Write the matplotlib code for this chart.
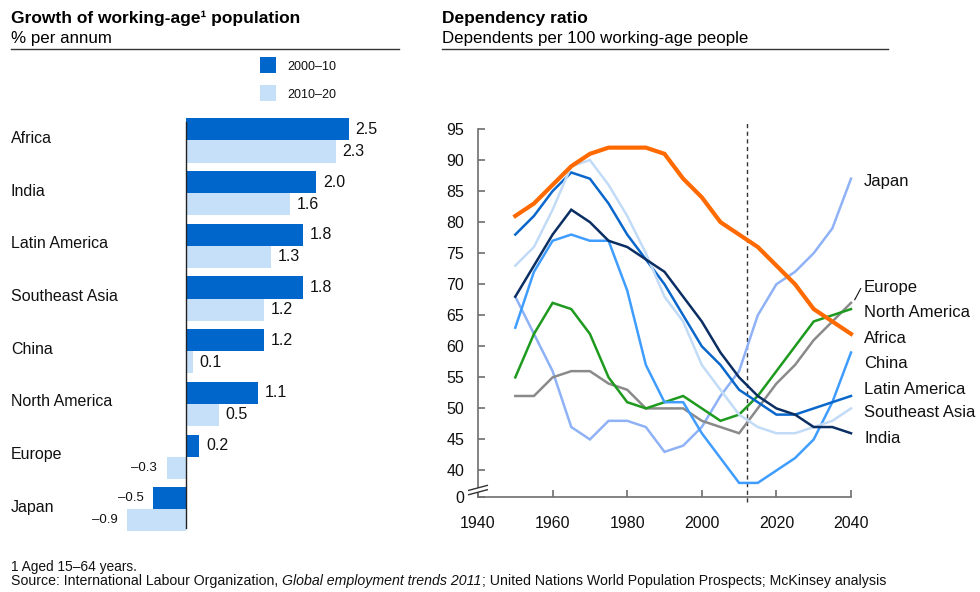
import matplotlib
matplotlib.use('Agg')
import matplotlib.pyplot as plt
from matplotlib.patches import Rectangle, Polygon
from matplotlib.lines import Line2D
import matplotlib.transforms as mtransforms

plt.rcParams['font.family'] = ['Liberation Sans', 'DejaVu Sans']

# ---------------- data ----------------
regions = ['Africa', 'India', 'Latin America', 'Southeast Asia', 'China',
           'North America', 'Europe', 'Japan']
growth_2000_10 = [2.5, 2.0, 1.8, 1.8, 1.2, 1.1, 0.2, -0.5]
growth_2010_20 = [2.3, 1.6, 1.3, 1.2, 0.1, 0.5, -0.3, -0.9]
period_labels = ['2000–10', '2010–20']

years = list(range(1950, 2041, 5))
dep_africa = [81, 83, 86, 89, 91, 92, 92, 92, 91, 87, 84, 80, 78, 76, 73, 70, 66, 64, 62]
dep_japan = [68, 62, 56, 47, 45, 48, 48, 47, 43, 44, 47, 52, 56, 65, 70, 72, 75, 79, 87]
dep_europe = [52, 52, 55, 56, 56, 54, 53, 50, 50, 50, 48, 47, 46, 50, 54, 57, 61, 64, 67]
dep_north_america = [55, 62, 67, 66, 62, 55, 51, 50, 51, 52, 50, 48, 49, 52, 56, 60, 64, 65, 66]
dep_china = [63, 72, 77, 78, 77, 77, 69, 57, 51, 51, 46, 42, 38, 38, 40, 42, 45, 51, 59]
dep_latin_america = [78, 81, 85, 88, 87, 83, 78, 74, 70, 65, 60, 57, 53, 51, 49, 49, 50, 51, 52]
dep_southeast_asia = [73, 76, 82, 89, 90, 86, 81, 75, 68, 64, 57, 53, 49, 47, 46, 46, 47, 48, 50]
dep_india = [68, 73, 78, 82, 80, 77, 76, 74, 72, 68, 64, 59, 55, 52, 50, 49, 47, 47, 46]

y_ticks = [40, 45, 50, 55, 60, 65, 70, 75, 80, 85, 90, 95]
x_ticks = [1940, 1960, 1980, 2000, 2020, 2040]
current_year = 2012

# ---------------- style ----------------
W, H = 980, 592
DARK = '#0066CC'
LIGHT = '#C7E0F9'
series = [
    ('Japan', dep_japan, '#8FB2F7', 1.8, 86.6),
    ('Europe', dep_europe, '#8A8A8A', 1.8, 69.4),
    ('North America', dep_north_america, '#1E9A1E', 1.8, 65.4),
    ('China', dep_china, '#3F9DFF', 1.8, 57.3),
    ('Latin America', dep_latin_america, '#0A68CC', 1.8, 53.1),
    ('Southeast Asia', dep_southeast_asia, '#C2DBF6', 1.8, 49.3),
    ('India', dep_india, '#0B2E63', 1.8, 45.2),
    ('Africa', dep_africa, '#FF6A00', 3.0, 61.3),
]

fig = plt.figure(figsize=(W / 100, H / 100), dpi=100)


def fx(px):
    return px / W


def fy(py):
    return 1 - py / H


# ---------------- headers ----------------
fig.text(fx(11), fy(18), 'Growth of working-age¹ population', fontsize=12.5,
         fontweight='bold', va='center', ha='left')
fig.text(fx(11), fy(38.5), '% per annum', fontsize=12.2, va='center', ha='left')
fig.add_artist(Line2D([fx(11), fx(399)], [fy(48.8), fy(48.8)], color='#333333', lw=1))

fig.text(fx(442), fy(18), 'Dependency ratio', fontsize=12.5,
         fontweight='bold', va='center', ha='left')
fig.text(fx(442), fy(38.5), 'Dependents per 100 working-age people', fontsize=12.2,
         va='center', ha='left')
fig.add_artist(Line2D([fx(442), fx(888)], [fy(48.5), fy(48.5)], color='#333333', lw=1))

# ---------------- left: bar chart ----------------
ax1 = fig.add_axes([fx(100), fy(540), 300 / W, 430 / H])
ax1.set_xlim(-1.323, 3.292)
ax1.set_ylim(7.585, -0.579)
ax1.axis('off')

pos = list(range(len(regions)))
bh = 0.418
ax1.barh([p - bh / 2 for p in pos], growth_2000_10, height=bh, color=DARK, linewidth=0)
ax1.barh([p + bh / 2 for p in pos], growth_2010_20, height=bh, color=LIGHT, linewidth=0)
ax1.plot([0, 0], [-0.36, 7.36], color='#222222', lw=1)

unit = 65.0  # pixels per percentage point
for vals, off in ((growth_2000_10, -bh / 2), (growth_2010_20, bh / 2)):
    for p, v in zip(pos, vals):
        if v >= 0:
            ax1.text(v + 7 / unit, p + off, f'{v:.1f}', ha='left', va='center',
                     fontsize=11.5, color='#111111')
        else:
            ax1.text(v - 10 / unit, p + off, f'–{abs(v):.1f}', ha='right', va='center',
                     fontsize=9.5, color='#111111')

blend = mtransforms.blended_transform_factory(fig.transFigure, ax1.transData)
for p, name in zip(pos, regions):
    ax1.text(fx(11), p - 0.04, name, transform=blend, ha='left', va='center',
             fontsize=11.5, color='#111111')

# legend
for i, (lab, col) in enumerate(zip(period_labels, [DARK, LIGHT])):
    top = 57 + i * 28
    fig.add_artist(Rectangle((fx(260), fy(top + 16)), 16 / W, 16 / H,
                             transform=fig.transFigure, color=col, lw=0))
    fig.text(fx(287), fy(top + 10.5), lab, fontsize=9, va='center', ha='left',
             color='#111111')

# ---------------- right: line chart ----------------
y_bottom = 35.73
ax2 = fig.add_axes([fx(478), fy(497), 373 / W, (497 - 122.8) / H])
ax2.set_xlim(1940, 2040)
ax2.set_ylim(y_bottom, 96)
for s in ('top', 'right'):
    ax2.spines[s].set_visible(False)
for s in ('left', 'bottom'):
    ax2.spines[s].set_color('#6E6E6E')
    ax2.spines[s].set_linewidth(1.2)
ax2.spines['left'].set_bounds(y_bottom, 95)

ax2.set_yticks([y_bottom] + y_ticks)
ax2.set_yticklabels(['0'] + [str(t) for t in y_ticks])
ax2.set_xticks(x_ticks)
ax2.set_xticklabels([str(t) for t in x_ticks])
ax2.tick_params(axis='both', direction='in', length=5, width=1.2, color='#6E6E6E',
                labelsize=11.5, labelcolor='#111111')
ax2.tick_params(axis='y', pad=10)
ax2.tick_params(axis='x', pad=14)

ax2.plot([current_year, current_year], [35.0, 96.0], color='#333333', lw=1,
         linestyle=(0, (3, 2.5)), clip_on=False, zorder=1)

for name, vals, col, lw, ly in series:
    ax2.plot(years, vals, color=col, lw=lw, solid_joinstyle='miter', zorder=3,
             clip_on=False)
    ax2.text(2043.5, ly, name, fontsize=12, va='center', ha='left', color='#111111')

# leader for Europe label
ax2.plot([2041.0, 2042.6], [67.5, 69.3], color='#111111', lw=0.8, clip_on=False)

# axis break mark
bt = ax2.get_yaxis_transform()
ax2.add_patch(Polygon([(-0.025, 36.1), (0.025, 36.9), (0.025, 37.6), (-0.025, 36.8)],
                      closed=True, transform=bt, facecolor='white', edgecolor='none',
                      clip_on=False, zorder=5))
for y0 in (36.1, 36.8):
    ax2.plot([-0.025, 0.025], [y0, y0 + 0.8], transform=bt, color='#333333', lw=1,
             clip_on=False, zorder=6)

# ---------------- footnotes ----------------
fig.text(fx(11), fy(567), '1 Aged 15–64 years.', fontsize=9.9, va='center', ha='left',
         color='#111111')
fs = 10.2
t1 = fig.text(fx(11), fy(588), 'Source: International Labour Organization, ',
              fontsize=fs, va='bottom', ha='left', color='#111111')
t2 = ax2.annotate('Global employment trends 2011', xy=(1, 0), xycoords=t1,
                  fontsize=fs, fontstyle='italic', va='bottom', ha='left',
                  color='#111111', annotation_clip=False)
t3 = ax2.annotate('; United Nations World Population Prospects; McKinsey analysis',
                  xy=(1, 0), xycoords=t2, fontsize=fs, va='bottom', ha='left',
                  color='#111111', annotation_clip=False)

fig.savefig('out.png', dpi=100)
